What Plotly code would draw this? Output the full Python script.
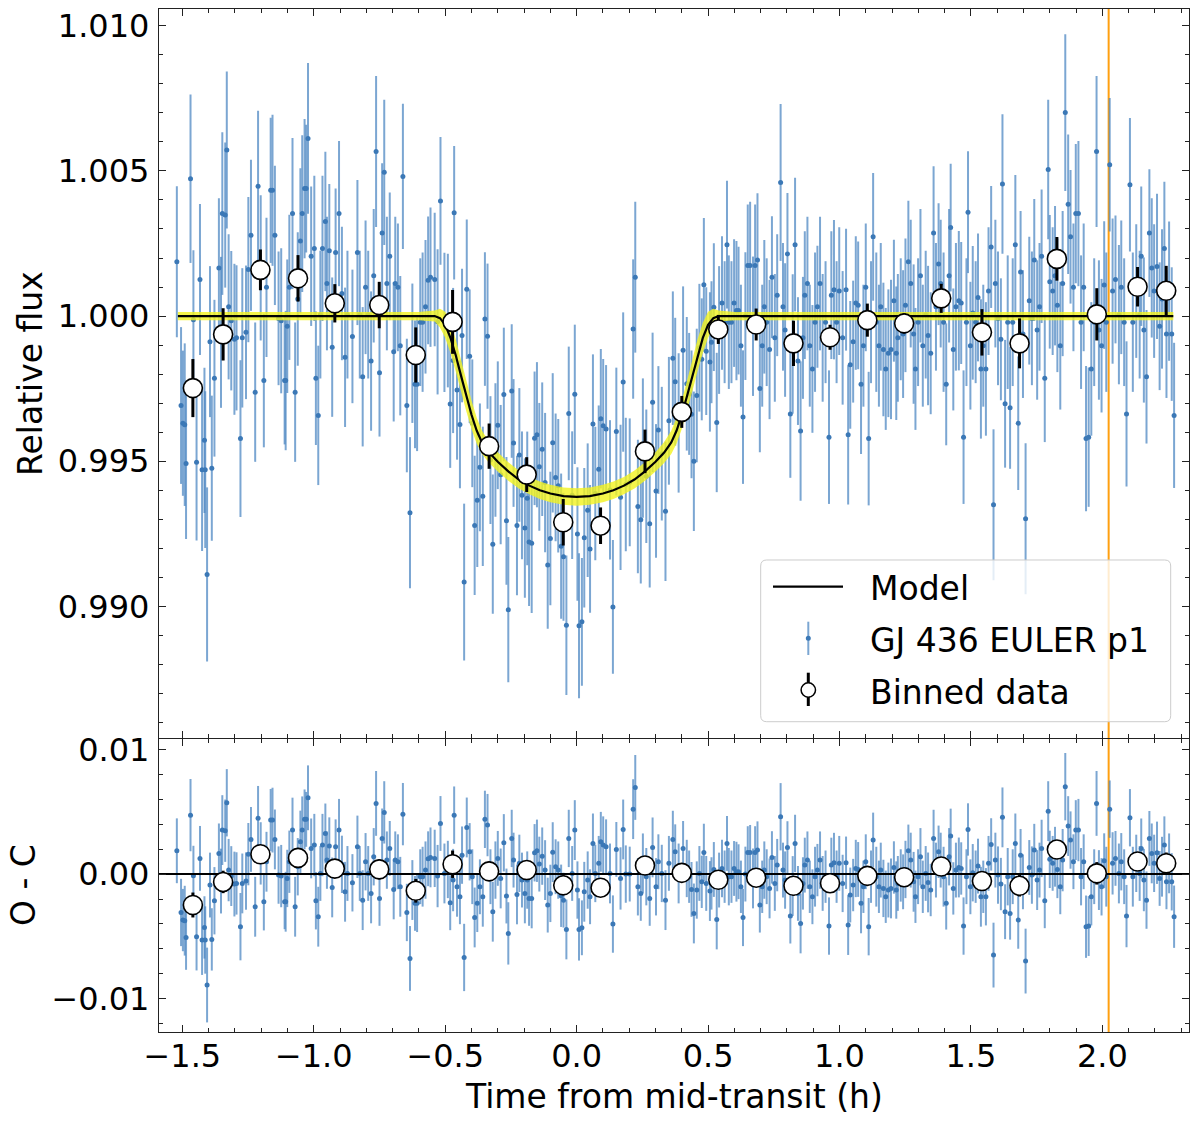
import numpy as np
import plotly.graph_objects as go

# ---------------- data ----------------
# Un-binned light curve: time from mid-transit (h) and O-C residual
time_h = [
    -1.521, -1.505, -1.498, -1.491, -1.486, -1.469, -1.458, -1.446, -1.433, -1.425,
    -1.416, -1.413, -1.406, -1.395, -1.388, -1.378, -1.361, -1.353, -1.348, -1.337,
    -1.331, -1.324, -1.314, -1.302, -1.294, -1.279, -1.272, -1.258, -1.249, -1.239,
    -1.223, -1.212, -1.202, -1.190, -1.180, -1.164, -1.157, -1.148, -1.134, -1.124,
    -1.111, -1.107, -1.101, -1.093, -1.081, -1.071, -1.061, -1.051, -1.044, -1.035,
    -1.029, -1.022, -1.010, -0.998, -0.992, -0.983, -0.975, -0.967, -0.956, -0.950,
    -0.941, -0.930, -0.917, -0.904, -0.893, -0.881, -0.872, -0.853, -0.834, -0.825,
    -0.814, -0.803, -0.793, -0.782, -0.772, -0.763, -0.750, -0.740, -0.732, -0.722,
    -0.711, -0.696, -0.690, -0.680, -0.671, -0.661, -0.646, -0.634, -0.625, -0.615,
    -0.607, -0.595, -0.586, -0.575, -0.565, -0.556, -0.540, -0.529, -0.518, -0.503,
    -0.490, -0.481, -0.470, -0.466, -0.455, -0.444, -0.436, -0.428, -0.418, -0.407,
    -0.397, -0.388, -0.378, -0.368, -0.357, -0.349, -0.339, -0.328, -0.319, -0.309,
    -0.300, -0.289, -0.277, -0.267, -0.260, -0.247, -0.240, -0.227, -0.218, -0.208,
    -0.197, -0.188, -0.181, -0.171, -0.160, -0.151, -0.142, -0.131, -0.120, -0.110,
    -0.100, -0.091, -0.080, -0.070, -0.059, -0.050, -0.039, -0.030, -0.017, -0.007,
    0.003, 0.009, 0.020, 0.029, 0.042, 0.051, 0.062, 0.071, 0.084, 0.092,
    0.101, 0.112, 0.127, 0.138, 0.151, 0.167, 0.177, 0.187, 0.202, 0.215,
    0.223, 0.233, 0.244, 0.252, 0.265, 0.278, 0.289, 0.302, 0.311, 0.324,
    0.338, 0.351,
    0.366, 0.375, 0.388, 0.405, 0.419, 0.428, 0.437, 0.446, 0.457, 0.467,
    0.476, 0.484, 0.493, 0.507, 0.513, 0.522, 0.533, 0.542, 0.553, 0.563,
    0.572, 0.579, 0.589, 0.599, 0.608, 0.616, 0.625, 0.633, 0.642, 0.651,
    0.660, 0.671, 0.679, 0.688, 0.697, 0.706, 0.714, 0.723, 0.734, 0.743,
    0.754, 0.763, 0.776, 0.785, 0.793, 0.802, 0.813, 0.822, 0.831, 0.842,
    0.852, 0.861, 0.868, 0.878, 0.887, 0.897, 0.907, 0.916, 0.926, 0.936,
    0.947, 0.960, 0.969, 0.979, 0.989, 0.999, 1.012, 1.025, 1.033, 1.041,
    1.052, 1.062, 1.071, 1.082, 1.091, 1.100, 1.111, 1.120, 1.128, 1.140,
    1.150, 1.157, 1.167, 1.176, 1.186, 1.196, 1.207, 1.216, 1.222, 1.233,
    1.242, 1.251, 1.262, 1.271, 1.282, 1.289, 1.299, 1.308, 1.317, 1.328,
    1.337, 1.347, 1.358, 1.367, 1.377, 1.385, 1.396, 1.406, 1.417, 1.423,
    1.433, 1.443, 1.454, 1.463, 1.472, 1.483, 1.489, 1.498, 1.507, 1.518,
    1.527, 1.538, 1.547, 1.557, 1.567, 1.577, 1.586, 1.593, 1.603, 1.614,
    1.620, 1.630, 1.640, 1.649, 1.659, 1.669, 1.680, 1.689, 1.698, 1.708,
    1.722, 1.732, 1.741, 1.752, 1.761, 1.769, 1.781, 1.794, 1.800, 1.811,
    1.820, 1.829, 1.840, 1.849, 1.859, 1.870, 1.879, 1.890, 1.899, 1.909,
    1.919, 1.929, 1.938, 1.948, 1.958, 1.969, 1.978, 1.987, 1.997, 2.007,
    2.015, 2.028, 2.039, 2.050, 2.063, 2.072, 2.083, 2.092, 2.105, 2.116,
    2.129, 2.142, 2.148, 2.158, 2.168, 2.179, 2.188, 2.197, 2.208, 2.218,
    2.227, 2.236, 2.244, 2.254, 2.264, 2.273,
]

oc_resid = [
    0.00187, -0.00308, -0.00369, -0.00374, -0.00508, 0.00473, -0.00013, -0.00503, 0.00126, -0.00529,
    -0.00428, -0.00529, -0.00890, -0.00088, -0.00524, -0.00214, 0.00166, -0.00056, 0.00353, 0.00348,
    0.00572, 0.00032, -0.00016, -0.00080, -0.00075, -0.00422, -0.00075, -0.00056, 0.00160, 0.00278,
    -0.00262, 0.00447, 0.00166, -0.00222, 0.00099, 0.00433, 0.00433, 0.00278, -0.00008, -0.00016,
    -0.00222, -0.00222, -0.00035, 0.00099, 0.00353, -0.00262, 0.00059, 0.00259, 0.00353, 0.00439,
    0.00439, 0.00612, 0.00206, 0.00233, -0.00214, -0.00342, 0.00005, 0.00233, 0.00326, 0.00112,
    0.00225, -0.00107, 0.00219, 0.00353, 0.00078, -0.00142, 0.00005, -0.00070, 0.00219, 0.00005,
    -0.00209, 0.00099, 0.00005, -0.00155, 0.00139, 0.00567, -0.00195, 0.00286, 0.00495, 0.00112,
    0.00206, -0.00123, 0.00112, 0.00099, -0.00102, 0.00481, -0.00308, -0.00677, -0.00128, -0.00235,
    -0.00235, -0.00021, -0.00021, 0.00032, 0.00123, 0.00134, 0.00126, -0.00016, 0.00406, 0.00005,
    0.00037, -0.00230, -0.00048, 0.00473, -0.00102, -0.00182, 0.00152, -0.00669, 0.00374, 0.00179,
    -0.00021, -0.00348, -0.00235, -0.00102, -0.00182, 0.00439, 0.00393, -0.00021, -0.00302, 0.00032,
    0.00126, -0.00035, 0.00251, -0.00176, -0.00476, 0.00286, 0.00112, -0.00163, 0.00086, -0.00048,
    -0.00155, -0.00048, -0.00195, -0.00195, 0.00171, 0.00187, 0.00080, 0.00144, 0.00032, -0.00249,
    -0.00155, 0.00176, 0.00059, 0.00032, -0.00174, -0.00209, -0.00444, 0.00286, 0.00005, 0.00353,
    -0.00128, -0.00444, -0.00431, -0.00142, -0.00048, -0.00182, 0.00246, 0.00005, 0.00086, 0.00259,
    0.00233, 0.00219, 0.00005, -0.00401, 0.00198, -0.00035, 0.00358, 0.00000, 0.00000, 0.00521,
    0.00695, -0.00102, -0.00155, 0.00086, -0.00021, -0.00195, 0.00214, -0.00102, 0.00099, 0.00005,
    -0.00209, 0.00086,
    0.00278, 0.00179, 0.00005, 0.00206, 0.00045, -0.00021, -0.00123, -0.00316, -0.00128, 0.00005,
    -0.00062, 0.00174, -0.00075, -0.00136, -0.00075, 0.00037, -0.00364, -0.00048, 0.00045, -0.00021,
    0.00246, -0.00021, -0.00021, 0.00045, 0.00019, 0.00019, -0.00102, -0.00348, 0.00000, 0.00174,
    0.00174, -0.00035, 0.00174, 0.00193, -0.00249, -0.00102, 0.00032, -0.00021, -0.00115, 0.00134,
    -0.00075, 0.00072, 0.00460, 0.00032, -0.00048, 0.00214, -0.00337, -0.00096, 0.00246, -0.00155,
    -0.00396, -0.00075, 0.00072, 0.00112, -0.00102, -0.00182, -0.00021, 0.00032, 0.00112, -0.00075,
    -0.00021, -0.00417, 0.00072, 0.00091, -0.00021, 0.00086, -0.00075, 0.00091, -0.00409, -0.00168,
    -0.00088, 0.00045, 0.00037, -0.00235, -0.00102, 0.00099, -0.00422, -0.00021, 0.00273, -0.00021,
    -0.00102, 0.00032, -0.00115, -0.00182, -0.00128, -0.00115, 0.00053, -0.00128, -0.00075, -0.00011,
    -0.00062, 0.00037, 0.00187, 0.00112, -0.00062, -0.00182, -0.00021, 0.00139, -0.00102, 0.00005,
    -0.00067, -0.00128, 0.00286, 0.00032, 0.00179, 0.00112, -0.00021, -0.00235, 0.00139, 0.00305,
    -0.00115, 0.00032, 0.00053, 0.00045, -0.00417, -0.00021, 0.00358, -0.00102, 0.00011, -0.00021,
    0.00064, -0.00182, -0.00102, -0.00182, 0.00086, 0.00238, -0.00650, 0.00112, -0.00008, -0.00080,
    0.00455, -0.00302, -0.00021, -0.00316, -0.00021, 0.00246, -0.00369, 0.00152, -0.00062, -0.00698,
    0.00053, -0.00008, 0.00193, -0.00048, 0.00032, 0.00206, -0.00214, 0.00505, 0.00118, 0.00086,
    0.00139, 0.00037, -0.00102, 0.00112, 0.00701, 0.00385, 0.00273, 0.00099, 0.00353, 0.00353,
    -0.00021, 0.00099, -0.00422, -0.00417, -0.00182, -0.00021, 0.00567, -0.00048, -0.00102, 0.00107,
    -0.00021, 0.00521, 0.00086, 0.00126, 0.00005, 0.00099, -0.00021, -0.00337, 0.00452, -0.00021,
    0.00086, 0.00005, 0.00206, -0.00048, -0.00209, 0.00286, 0.00166, 0.00086, 0.00171, -0.00035,
    0.00059, 0.00233, -0.00062, 0.00086, -0.00062, -0.00342,
]

# 1-sigma error bars, in units of 1e-4 relative flux
err_1e4 = [
    26, 27, 25, 28, 26, 29, 24, 27, 26, 28, 25, 27, 30, 26, 25, 27, 24, 26, 28, 25,
    27, 25, 24, 26, 25, 27, 24, 23, 25, 26,
    24, 26, 25, 23, 24, 25, 26, 24, 23, 25, 22, 24, 23, 25, 26, 24, 23, 25, 27, 24,
    22, 26, 24, 25, 23, 24, 22, 25, 24, 23,
    23, 24, 22, 25, 23, 24, 22, 23, 25, 22, 24, 23, 22, 24, 23, 26, 22, 24, 25, 23,
    22, 24, 23, 22, 24, 25, 23, 26, 24, 22,
    23, 22, 24, 23, 22, 24, 23, 25, 22, 24, 23, 22, 25, 23, 24, 22, 23, 27, 24, 23,
    22, 24, 23, 22, 24, 23, 25, 22, 24, 23,
    22, 24, 23, 22, 25, 23, 22, 24, 23, 22, 24, 23, 22, 24, 23, 25, 22, 23, 24, 22,
    23, 24, 22, 23, 25, 22, 24, 23, 22, 24,
    23, 25, 22, 24, 23, 22, 24, 23, 22, 24, 23, 22, 24, 23, 22, 25, 24, 23, 22, 24,
    26, 23, 22, 24, 23, 22, 24, 23, 22, 23, 24, 22,
    23, 22, 24, 22, 23, 21, 22, 24, 23, 22, 21, 23, 22, 24, 21, 22, 24, 22, 23, 21,
    22, 23, 21, 22, 24, 22, 21, 23, 22, 21,
    22, 24, 21, 23, 22, 21, 23, 22, 24, 21, 22, 21, 27, 22, 23, 21, 22, 24, 23, 22,
    24, 21, 22, 23, 21, 22, 24, 21, 23, 22,
    21, 23, 22, 24, 21, 22, 23, 21, 24, 22, 21, 23, 22, 24, 21, 22, 23, 21, 22, 24,
    21, 22, 23, 21, 22, 24, 21, 23, 22, 21,
    22, 23, 21, 22, 24, 21, 22, 23, 21, 22, 24, 21, 23, 22, 21, 22, 24, 21, 23, 22,
    21, 22, 24, 21, 23, 22, 21, 22, 23, 21,
    22, 24, 21, 23, 22, 21, 26, 22, 23, 21, 24, 22, 23, 21, 22, 24, 23, 21, 22, 26,
    22, 23, 21, 24, 22, 23, 22, 24, 23, 22,
    24, 23, 22, 25, 27, 24, 23, 22, 24, 25, 23, 22, 25, 24, 23, 22, 26, 24, 23, 22,
    24, 23, 25, 22, 24, 23, 22, 25, 23, 24,
    23, 22, 24, 25, 23, 22, 24, 23, 25, 22, 24, 23, 22, 24, 23, 25,
]

# Binned data
bin_t = [-1.460, -1.345, -1.203, -1.060, -0.920, -0.751, -0.612, -0.472, -0.333, -0.190,
         -0.051, 0.091, 0.260, 0.400, 0.539, 0.683, 0.825, 0.964, 1.106, 1.246,
         1.387, 1.542, 1.685, 1.827, 1.979, 2.134, 2.243]
bin_flux = [0.99752, 0.99937, 1.00159, 1.00130, 1.00044, 1.00038, 0.99866, 0.99980, 0.99552, 0.99454,
            0.99290, 0.99278, 0.99534, 0.99670, 0.99954, 0.99971, 0.99906, 0.99927, 0.99986, 0.99975,
            1.00061, 0.99944, 0.99906, 1.00197, 1.00006, 1.00101, 1.00087]
bin_err = [0.00100, 0.00090, 0.00070, 0.00080, 0.00066, 0.00080, 0.00095, 0.00110, 0.00078, 0.00060,
           0.00080, 0.00063, 0.00075, 0.00055, 0.00050, 0.00055, 0.00078, 0.00043, 0.00057, 0.00035,
           0.00050, 0.00080, 0.00086, 0.00075, 0.00090, 0.00068, 0.00086]

# Transit model and its uncertainty band half-width (1e-4)
model_t = [-1.517, -0.60, -0.54, -0.52, -0.50, -0.48, -0.46, -0.44, -0.42, -0.40,
           -0.38, -0.36, -0.333, -0.30, -0.26, -0.22, -0.18, -0.14, -0.10, -0.05,
           0.00, 0.05, 0.10, 0.14, 0.18, 0.22, 0.26, 0.30, 0.333, 0.36,
           0.38, 0.40, 0.42, 0.44, 0.46, 0.48, 0.50, 0.52, 0.54, 0.60, 2.27]
model_f = [1.00000, 1.00000, 1.00000, 0.99993, 0.99970, 0.99925, 0.99865, 0.99795, 0.99725, 0.99660,
           0.99605, 0.99565, 0.99530, 0.99498, 0.99465, 0.99437, 0.99416, 0.99400, 0.99389, 0.99380,
           0.99377, 0.99380, 0.99389, 0.99400, 0.99416, 0.99437, 0.99465, 0.99498, 0.99530, 0.99565,
           0.99605, 0.99660, 0.99725, 0.99795, 0.99865, 0.99925, 0.99970, 0.99993, 1.00000, 1.00000, 1.00000]
band_1e4 = [1.4, 1.4, 1.9, 3.2, 4.5, 5.2, 5.5, 5.5, 5.2, 4.9,
            4.5, 4.0, 3.6, 3.3, 3.2, 3.1, 3.0, 3.0, 3.0, 3.0,
            3.0, 3.0, 3.0, 3.0, 3.0, 3.1, 3.2, 3.3, 3.6, 4.0,
            4.5, 4.9, 5.2, 5.5, 5.5, 5.2, 4.5, 3.2, 1.9, 1.4, 1.4]

orange_t = 2.024  # vertical marker

x_ticks = [-1.5, -1.0, -0.5, 0.0, 0.5, 1.0, 1.5, 2.0]
x_ticktext = ["\u22121.5", "\u22121.0", "\u22120.5", "0.0", "0.5", "1.0", "1.5", "2.0"]
y1_ticks = [0.990, 0.995, 1.000, 1.005, 1.010]
y1_ticktext = ["0.990", "0.995", "1.000", "1.005", "1.010"]
y2_ticks = [-0.01, 0.0, 0.01]
y2_ticktext = ["\u22120.01", "0.00", "0.01"]

assert len(time_h) == len(oc_resid) == len(err_1e4)
assert len(model_t) == len(model_f) == len(band_1e4)

# ---------------- derived quantities ----------------
t = np.array(time_h)
oc = np.array(oc_resid)
err = np.array(err_1e4) * 1e-4
mt = np.array(model_t)
mf = np.array(model_f)
band = np.array(band_1e4) * 1e-4
flux = np.interp(t, mt, mf) + oc
bt = np.array(bin_t)
bf = np.array(bin_flux)
boc = bf - np.interp(bt, mt, mf)

# ---------------- layout geometry ----------------
W, H = 1200, 1122
ML, MR, MT, MB = 159, 11, 9, 90
PW = W - ML - MR
PH = H - MT - MB


def px(x):
    return (x - ML) / PW


def py(y):
    return (H - MB - y) / PH


FONT = "DejaVu Sans, Verdana, sans-serif"
BLUE_BAR = "rgba(72,132,192,0.72)"
BLUE_DOT = "#3b78b6"

fig = go.Figure()

# --- top panel ---
fig.add_trace(go.Scatter(
    x=t, y=flux, mode="markers", xaxis="x", yaxis="y",
    marker=dict(size=5, color=BLUE_DOT),
    error_y=dict(type="data", array=err, color=BLUE_BAR, thickness=2, width=0),
    name="GJ 436 EULER p1", showlegend=False, hoverinfo="skip"))
fig.add_trace(go.Scatter(
    x=mt, y=mf + band, mode="lines", line=dict(width=0, color="rgba(0,0,0,0)"),
    xaxis="x", yaxis="y", showlegend=False, hoverinfo="skip"))
fig.add_trace(go.Scatter(
    x=mt, y=mf - band, mode="lines", line=dict(width=0, color="rgba(0,0,0,0)"),
    fill="tonexty", fillcolor="rgba(242,242,30,0.8)",
    xaxis="x", yaxis="y", showlegend=False, hoverinfo="skip"))
fig.add_trace(go.Scatter(
    x=mt, y=mf, mode="lines", line=dict(color="black", width=2.2),
    xaxis="x", yaxis="y", name="Model", showlegend=False, hoverinfo="skip"))
fig.add_trace(go.Scatter(
    x=bt, y=bf, mode="markers", xaxis="x", yaxis="y",
    marker=dict(size=19, color="white", line=dict(color="black", width=1.6)),
    error_y=dict(type="data", array=bin_err, color="black", thickness=3, width=0),
    name="Binned data", showlegend=False, hoverinfo="skip"))

# --- bottom panel ---
fig.add_trace(go.Scatter(
    x=t, y=oc, mode="markers", xaxis="x2", yaxis="y2",
    marker=dict(size=5, color=BLUE_DOT),
    error_y=dict(type="data", array=err, color=BLUE_BAR, thickness=2, width=0),
    showlegend=False, hoverinfo="skip"))
XR = [-1.5889, 2.3297]
fig.add_trace(go.Scatter(
    x=XR, y=[0, 0], mode="lines", line=dict(color="black", width=2),
    xaxis="x2", yaxis="y2", showlegend=False, hoverinfo="skip"))
fig.add_trace(go.Scatter(
    x=bt, y=boc, mode="markers", xaxis="x2", yaxis="y2",
    marker=dict(size=19, color="white", line=dict(color="black", width=1.6)),
    error_y=dict(type="data", array=bin_err, color="black", thickness=3, width=0),
    showlegend=False, hoverinfo="skip"))

axis_common = dict(
    showline=True, linecolor="#222", linewidth=1.3, mirror="allticks",
    ticks="inside", ticklen=7, tickwidth=1.3, tickcolor="#222",
    showgrid=False, zeroline=False,
    tickfont=dict(family=FONT, size=32, color="black"),
)

fig.update_layout(
    width=W, height=H,
    margin=dict(l=ML, r=MR, t=MT, b=MB, autoexpand=False),
    paper_bgcolor="white", plot_bgcolor="white",
    showlegend=False,
    xaxis=dict(domain=[0, 1], anchor="y", range=XR, tickmode="array", tickvals=x_ticks,
               ticktext=x_ticktext, showticklabels=False,
               minor=dict(ticks="inside", ticklen=4, tickwidth=1, tickcolor="#222", tick0=0, dtick=0.1),
               **axis_common),
    yaxis=dict(domain=[0.2872, 1], anchor="x", range=[0.985462, 1.010576], tickmode="array",
               tickvals=y1_ticks, ticktext=y1_ticktext, ticklabelstandoff=2,
               minor=dict(ticks="inside", ticklen=4, tickwidth=1, tickcolor="#222", tick0=0, dtick=0.001),
               **axis_common),
    xaxis2=dict(domain=[0, 1], anchor="y2", range=XR, tickmode="array", tickvals=x_ticks,
                ticktext=x_ticktext, ticklabelstandoff=-5,
                minor=dict(ticks="inside", ticklen=4, tickwidth=1, tickcolor="#222", tick0=0, dtick=0.1),
                **axis_common),
    yaxis2=dict(domain=[0, 0.2862], anchor="x2", range=[-0.01267, 0.01082], tickmode="array",
                tickvals=y2_ticks, ticktext=y2_ticktext, ticklabelstandoff=2,
                minor=dict(ticks="inside", ticklen=4, tickwidth=1, tickcolor="#222", tick0=0, dtick=0.002),
                **axis_common),
)

shapes = []
# orange vertical line across both panels (drawn beneath the data)
shapes.append(dict(type="line", xref="x", yref="paper", x0=orange_t, x1=orange_t, y0=0, y1=1,
                   line=dict(color="#ffa010", width=2), layer="below"))

# legend box (rounded)
lx0, lx1, ly0, ly1, r = 760.7, 1170.7, 560.0, 721.7, 6.0
def P(x, y):
    return f"{px(x):.5f},{py(y):.5f}"
path = (f"M {P(lx0 + r, ly0)} L {P(lx1 - r, ly0)} Q {P(lx1, ly0)} {P(lx1, ly0 + r)} "
        f"L {P(lx1, ly1 - r)} Q {P(lx1, ly1)} {P(lx1 - r, ly1)} "
        f"L {P(lx0 + r, ly1)} Q {P(lx0, ly1)} {P(lx0, ly1 - r)} "
        f"L {P(lx0, ly0 + r)} Q {P(lx0, ly0)} {P(lx0 + r, ly0)} Z")
shapes.append(dict(type="path", xref="paper", yref="paper", path=path,
                   fillcolor="rgba(255,255,255,0.8)", line=dict(color="#cccccc", width=1)))
# legend symbols
shapes.append(dict(type="line", xref="paper", yref="paper", x0=px(773), x1=px(843),
                   y0=py(586.7), y1=py(586.7), line=dict(color="black", width=2.2)))
shapes.append(dict(type="line", xref="paper", yref="paper", x0=px(808.3), x1=px(808.3),
                   y0=py(621.7), y1=py(655), line=dict(color=BLUE_BAR, width=2)))
shapes.append(dict(type="circle", xref="paper", yref="paper", xsizemode="pixel", ysizemode="pixel",
                   xanchor=px(808.3), yanchor=py(638.3), x0=-2.5, x1=2.5, y0=-2.5, y1=2.5,
                   fillcolor=BLUE_DOT, line=dict(width=0)))
shapes.append(dict(type="line", xref="paper", yref="paper", x0=px(808.3), x1=px(808.3),
                   y0=py(672.7), y1=py(706), line=dict(color="black", width=3)))
shapes.append(dict(type="circle", xref="paper", yref="paper", xsizemode="pixel", ysizemode="pixel",
                   xanchor=px(808.3), yanchor=py(690), x0=-7.2, x1=7.2, y0=-7.2, y1=7.2,
                   fillcolor="white", line=dict(color="black", width=1.5)))
fig.update_layout(shapes=shapes)

ann_font = dict(family=FONT, size=33, color="black")
annotations = [
    dict(text="Relative flux", xref="paper", yref="paper", x=px(30), y=py(374),
         textangle=-90, xanchor="center", yanchor="middle", showarrow=False, font=ann_font),
    dict(text="O - C", xref="paper", yref="paper", x=px(23.5), y=py(885.5),
         textangle=-90, xanchor="center", yanchor="middle", showarrow=False, font=ann_font),
    dict(text="Time from mid-transit (h)", xref="paper", yref="paper", x=px(674), y=py(1096),
         xanchor="center", yanchor="middle", showarrow=False, font=ann_font),
    dict(text="Model", xref="paper", yref="paper", x=px(868), y=py(589),
         xanchor="left", yanchor="middle", showarrow=False, font=ann_font),
    dict(text="GJ 436 EULER p1", xref="paper", yref="paper", x=px(868), y=py(640.5),
         xanchor="left", yanchor="middle", showarrow=False, font=ann_font),
    dict(text="Binned data", xref="paper", yref="paper", x=px(868), y=py(692.5),
         xanchor="left", yanchor="middle", showarrow=False, font=ann_font),
]
fig.update_layout(annotations=annotations)

fig.write_html("out.html")
